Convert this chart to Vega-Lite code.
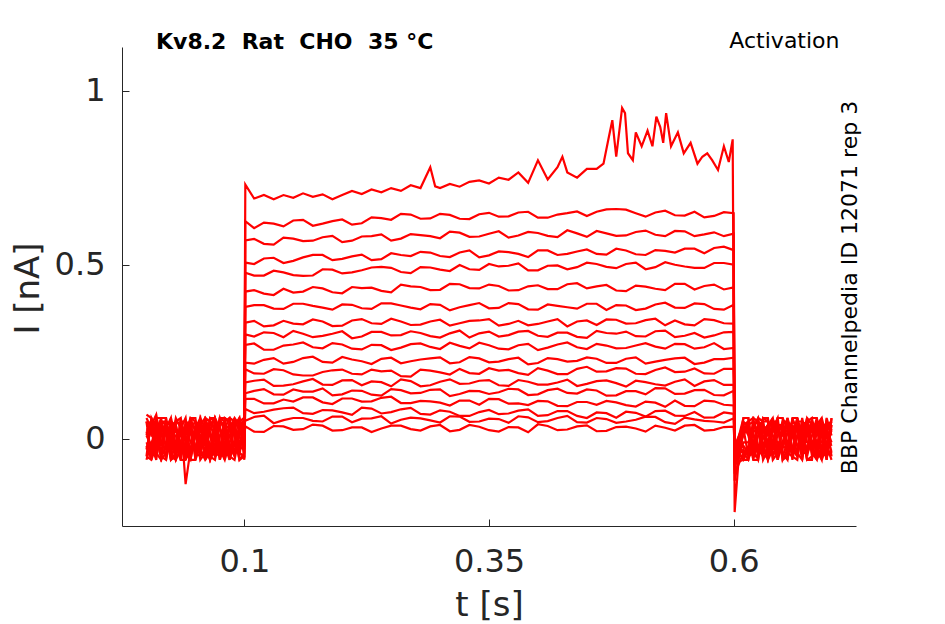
{
"$schema":"https://vega.github.io/schema/vega-lite/v6.json",
"width":734,"height":479,"autosize":"none",
"padding":{"left":122,"top":47,"right":89,"bottom":98},
"background":"white",
"config":{"view":{"stroke":null},"font":"DejaVu Sans"},
"title":{"text":"Kv8.2\u00a0\u00a0Rat\u00a0\u00a0CHO\u00a0\u00a035 °C","anchor":"start","frame":"group","fontSize":22,"fontWeight":"bold","color":"#000000","offset":0,"dx":34,"dy":42,"baseline":"alphabetic","font":"DejaVu Sans"},
"resolve":{"axis":{"x":"independent","y":"independent"}},
"layer":[
{"data":{"values":[
{"s":1,"t":0,"i":0.02},{"s":1,"t":10,"i":-0.04},{"s":1,"t":20,"i":0.05},{"s":1,"t":30,"i":-0.01},{"s":1,"t":40,"i":-0.05},{"s":1,"t":50,"i":0.03},{"s":1,"t":60,"i":-0.03},{"s":1,"t":70,"i":0.06},{"s":1,"t":80,"i":-0.02},{"s":1,"t":90,"i":0.04},{"s":1,"t":100,"i":0.01},
{"s":1,"t":101,"i":0.036},{"s":1,"t":120,"i":0.020},{"s":1,"t":140,"i":0.036},{"s":1,"t":160,"i":0.028},{"s":1,"t":180,"i":0.038},{"s":1,"t":200,"i":0.025},{"s":1,"t":220,"i":0.033},{"s":1,"t":240,"i":0.030},{"s":1,"t":260,"i":0.038},{"s":1,"t":280,"i":0.024},{"s":1,"t":300,"i":0.040},{"s":1,"t":320,"i":0.026},{"s":1,"t":340,"i":0.035},{"s":1,"t":360,"i":0.021},{"s":1,"t":380,"i":0.033},{"s":1,"t":400,"i":0.042},{"s":1,"t":420,"i":0.025},{"s":1,"t":440,"i":0.036},{"s":1,"t":460,"i":0.022},{"s":1,"t":480,"i":0.034},{"s":1,"t":500,"i":0.030},{"s":1,"t":520,"i":0.038},{"s":1,"t":540,"i":0.024},{"s":1,"t":560,"i":0.040},{"s":1,"t":580,"i":0.026},{"s":1,"t":600,"i":0.035},
{"s":1,"t":601,"i":-0.02},{"s":1,"t":610,"i":0.04},{"s":1,"t":620,"i":-0.05},{"s":1,"t":630,"i":0.02},{"s":1,"t":640,"i":0.06},{"s":1,"t":650,"i":-0.03},{"s":1,"t":660,"i":0.01},{"s":1,"t":670,"i":-0.06},{"s":1,"t":680,"i":0.04},{"s":1,"t":690,"i":-0.02},{"s":1,"t":700,"i":0.05},

{"s":2,"t":0,"i":-0.03},{"s":2,"t":10,"i":0.05},{"s":2,"t":20,"i":-0.02},{"s":2,"t":30,"i":0.04},{"s":2,"t":40,"i":-0.06},{"s":2,"t":50,"i":0.02},{"s":2,"t":60,"i":0.05},{"s":2,"t":70,"i":-0.04},{"s":2,"t":80,"i":0.03},{"s":2,"t":90,"i":-0.01},{"s":2,"t":100,"i":0.05},
{"s":2,"t":101,"i":0.052},{"s":2,"t":120,"i":0.067},{"s":2,"t":140,"i":0.054},{"s":2,"t":160,"i":0.060},{"s":2,"t":180,"i":0.050},{"s":2,"t":200,"i":0.064},{"s":2,"t":220,"i":0.058},{"s":2,"t":240,"i":0.065},{"s":2,"t":260,"i":0.055},{"s":2,"t":280,"i":0.059},{"s":2,"t":300,"i":0.047},{"s":2,"t":320,"i":0.064},{"s":2,"t":340,"i":0.050},{"s":2,"t":360,"i":0.057},{"s":2,"t":380,"i":0.065},{"s":2,"t":400,"i":0.048},{"s":2,"t":420,"i":0.060},{"s":2,"t":440,"i":0.048},{"s":2,"t":460,"i":0.060},{"s":2,"t":480,"i":0.046},{"s":2,"t":500,"i":0.055},{"s":2,"t":520,"i":0.063},{"s":2,"t":540,"i":0.043},{"s":2,"t":560,"i":0.056},{"s":2,"t":580,"i":0.050},{"s":2,"t":600,"i":0.059},
{"s":2,"t":601,"i":-0.02},{"s":2,"t":610,"i":-0.06},{"s":2,"t":620,"i":0.03},{"s":2,"t":630,"i":-0.02},{"s":2,"t":640,"i":0.05},{"s":2,"t":650,"i":0.04},{"s":2,"t":660,"i":-0.04},{"s":2,"t":670,"i":0.02},{"s":2,"t":680,"i":-0.05},{"s":2,"t":690,"i":0.06},{"s":2,"t":700,"i":-0.01},

{"s":3,"t":0,"i":0.05},{"s":3,"t":10,"i":-0.01},{"s":3,"t":20,"i":0.03},{"s":3,"t":30,"i":-0.05},{"s":3,"t":40,"i":0.04},{"s":3,"t":50,"i":-0.03},{"s":3,"t":60,"i":0.01},{"s":3,"t":70,"i":0.06},{"s":3,"t":80,"i":-0.05},{"s":3,"t":90,"i":0.02},{"s":3,"t":100,"i":-0.02},
{"s":3,"t":101,"i":0.086},{"s":3,"t":120,"i":0.078},{"s":3,"t":140,"i":0.088},{"s":3,"t":160,"i":0.074},{"s":3,"t":180,"i":0.083},{"s":3,"t":200,"i":0.076},{"s":3,"t":220,"i":0.090},{"s":3,"t":240,"i":0.073},{"s":3,"t":260,"i":0.085},{"s":3,"t":280,"i":0.072},{"s":3,"t":300,"i":0.082},{"s":3,"t":320,"i":0.066},{"s":3,"t":340,"i":0.077},{"s":3,"t":360,"i":0.071},{"s":3,"t":380,"i":0.081},{"s":3,"t":400,"i":0.066},{"s":3,"t":420,"i":0.080},{"s":3,"t":440,"i":0.066},{"s":3,"t":460,"i":0.076},{"s":3,"t":480,"i":0.061},{"s":3,"t":500,"i":0.075},{"s":3,"t":520,"i":0.080},{"s":3,"t":540,"i":0.067},{"s":3,"t":560,"i":0.077},{"s":3,"t":580,"i":0.062},{"s":3,"t":600,"i":0.072},
{"s":3,"t":601,"i":-0.03},{"s":3,"t":610,"i":0.02},{"s":3,"t":620,"i":0.06},{"s":3,"t":630,"i":-0.04},{"s":3,"t":640,"i":-0.01},{"s":3,"t":650,"i":0.05},{"s":3,"t":660,"i":-0.06},{"s":3,"t":670,"i":0.03},{"s":3,"t":680,"i":0.01},{"s":3,"t":690,"i":-0.04},{"s":3,"t":700,"i":0.04},

{"s":4,"t":0,"i":-0.05},{"s":4,"t":10,"i":0.03},{"s":4,"t":20,"i":0.06},{"s":4,"t":30,"i":-0.03},{"s":4,"t":40,"i":0.01},{"s":4,"t":50,"i":-0.06},{"s":4,"t":60,"i":0.04},{"s":4,"t":70,"i":-0.02},{"s":4,"t":80,"i":0.05},{"s":4,"t":90,"i":-0.04},{"s":4,"t":100,"i":0.03},
{"s":4,"t":101,"i":0.115},{"s":4,"t":120,"i":0.102},{"s":4,"t":140,"i":0.113},{"s":4,"t":160,"i":0.119},{"s":4,"t":180,"i":0.105},{"s":4,"t":200,"i":0.116},{"s":4,"t":220,"i":0.107},{"s":4,"t":240,"i":0.118},{"s":4,"t":260,"i":0.103},{"s":4,"t":280,"i":0.109},{"s":4,"t":300,"i":0.104},{"s":4,"t":320,"i":0.110},{"s":4,"t":340,"i":0.098},{"s":4,"t":360,"i":0.114},{"s":4,"t":380,"i":0.102},{"s":4,"t":400,"i":0.109},{"s":4,"t":420,"i":0.095},{"s":4,"t":440,"i":0.106},{"s":4,"t":460,"i":0.098},{"s":4,"t":480,"i":0.105},{"s":4,"t":500,"i":0.093},{"s":4,"t":520,"i":0.104},{"s":4,"t":540,"i":0.110},{"s":4,"t":560,"i":0.094},{"s":4,"t":580,"i":0.108},{"s":4,"t":600,"i":0.096},
{"s":4,"t":601,"i":-0.03},{"s":4,"t":610,"i":-0.04},{"s":4,"t":620,"i":-0.01},{"s":4,"t":630,"i":0.05},{"s":4,"t":640,"i":-0.05},{"s":4,"t":650,"i":0.02},{"s":4,"t":660,"i":0.06},{"s":4,"t":670,"i":-0.03},{"s":4,"t":680,"i":0.05},{"s":4,"t":690,"i":-0.06},{"s":4,"t":700,"i":0.02},

{"s":5,"t":0,"i":0.01},{"s":5,"t":10,"i":-0.06},{"s":5,"t":20,"i":0.02},{"s":5,"t":30,"i":0.05},{"s":5,"t":40,"i":-0.13},{"s":5,"t":50,"i":0.04},{"s":5,"t":60,"i":-0.05},{"s":5,"t":70,"i":0.03},{"s":5,"t":80,"i":-0.01},{"s":5,"t":90,"i":0.06},{"s":5,"t":100,"i":-0.03},
{"s":5,"t":101,"i":0.131},{"s":5,"t":120,"i":0.143},{"s":5,"t":140,"i":0.127},{"s":5,"t":160,"i":0.136},{"s":5,"t":180,"i":0.145},{"s":5,"t":200,"i":0.128},{"s":5,"t":220,"i":0.138},{"s":5,"t":240,"i":0.124},{"s":5,"t":260,"i":0.140},{"s":5,"t":280,"i":0.132},{"s":5,"t":300,"i":0.142},{"s":5,"t":320,"i":0.129},{"s":5,"t":340,"i":0.137},{"s":5,"t":360,"i":0.134},{"s":5,"t":380,"i":0.142},{"s":5,"t":400,"i":0.128},{"s":5,"t":420,"i":0.144},{"s":5,"t":440,"i":0.130},{"s":5,"t":460,"i":0.139},{"s":5,"t":480,"i":0.125},{"s":5,"t":500,"i":0.137},{"s":5,"t":520,"i":0.146},{"s":5,"t":540,"i":0.129},{"s":5,"t":560,"i":0.140},{"s":5,"t":580,"i":0.126},{"s":5,"t":600,"i":0.138},
{"s":5,"t":601,"i":-0.04},{"s":5,"t":610,"i":0.05},{"s":5,"t":620,"i":-0.03},{"s":5,"t":630,"i":0.03},{"s":5,"t":640,"i":0.02},{"s":5,"t":650,"i":-0.06},{"s":5,"t":660,"i":0.04},{"s":5,"t":670,"i":-0.01},{"s":5,"t":680,"i":-0.05},{"s":5,"t":690,"i":0.03},{"s":5,"t":700,"i":-0.04},

{"s":6,"t":0,"i":0.06},{"s":6,"t":10,"i":0.02},{"s":6,"t":20,"i":-0.04},{"s":6,"t":30,"i":0.03},{"s":6,"t":40,"i":-0.02},{"s":6,"t":50,"i":0.05},{"s":6,"t":60,"i":-0.06},{"s":6,"t":70,"i":0.01},{"s":6,"t":80,"i":0.04},{"s":6,"t":90,"i":-0.05},{"s":6,"t":100,"i":0.06},
{"s":6,"t":101,"i":0.162},{"s":6,"t":120,"i":0.170},{"s":6,"t":140,"i":0.153},{"s":6,"t":160,"i":0.165},{"s":6,"t":180,"i":0.156},{"s":6,"t":200,"i":0.168},{"s":6,"t":220,"i":0.154},{"s":6,"t":240,"i":0.163},{"s":6,"t":260,"i":0.171},{"s":6,"t":280,"i":0.151},{"s":6,"t":300,"i":0.164},{"s":6,"t":320,"i":0.158},{"s":6,"t":340,"i":0.167},{"s":6,"t":360,"i":0.154},{"s":6,"t":380,"i":0.169},{"s":6,"t":400,"i":0.156},{"s":6,"t":420,"i":0.162},{"s":6,"t":440,"i":0.152},{"s":6,"t":460,"i":0.166},{"s":6,"t":480,"i":0.160},{"s":6,"t":500,"i":0.167},{"s":6,"t":520,"i":0.157},{"s":6,"t":540,"i":0.164},{"s":6,"t":560,"i":0.152},{"s":6,"t":580,"i":0.169},{"s":6,"t":600,"i":0.155},
{"s":6,"t":601,"i":-0.04},{"s":6,"t":610,"i":-0.02},{"s":6,"t":620,"i":0.04},{"s":6,"t":630,"i":-0.06},{"s":6,"t":640,"i":0.05},{"s":6,"t":650,"i":0.01},{"s":6,"t":660,"i":-0.03},{"s":6,"t":670,"i":0.06},{"s":6,"t":680,"i":-0.02},{"s":6,"t":690,"i":0.02},{"s":6,"t":700,"i":0.06},

{"s":7,"t":0,"i":-0.02},{"s":7,"t":10,"i":0.04},{"s":7,"t":20,"i":-0.06},{"s":7,"t":30,"i":0.01},{"s":7,"t":40,"i":0.05},{"s":7,"t":50,"i":-0.04},{"s":7,"t":60,"i":0.03},{"s":7,"t":70,"i":-0.05},{"s":7,"t":80,"i":0.06},{"s":7,"t":90,"i":0.02},{"s":7,"t":100,"i":-0.04},
{"s":7,"t":101,"i":0.200},{"s":7,"t":120,"i":0.187},{"s":7,"t":140,"i":0.197},{"s":7,"t":160,"i":0.182},{"s":7,"t":180,"i":0.192},{"s":7,"t":200,"i":0.199},{"s":7,"t":220,"i":0.185},{"s":7,"t":240,"i":0.194},{"s":7,"t":260,"i":0.180},{"s":7,"t":280,"i":0.199},{"s":7,"t":300,"i":0.191},{"s":7,"t":320,"i":0.201},{"s":7,"t":340,"i":0.187},{"s":7,"t":360,"i":0.196},{"s":7,"t":380,"i":0.189},{"s":7,"t":400,"i":0.203},{"s":7,"t":420,"i":0.186},{"s":7,"t":440,"i":0.201},{"s":7,"t":460,"i":0.193},{"s":7,"t":480,"i":0.203},{"s":7,"t":500,"i":0.187},{"s":7,"t":520,"i":0.198},{"s":7,"t":540,"i":0.192},{"s":7,"t":560,"i":0.202},{"s":7,"t":580,"i":0.187},{"s":7,"t":600,"i":0.201},
{"s":7,"t":601,"i":-0.04},{"s":7,"t":610,"i":0.06},{"s":7,"t":620,"i":-0.06},{"s":7,"t":630,"i":0.01},{"s":7,"t":640,"i":-0.03},{"s":7,"t":650,"i":0.04},{"s":7,"t":660,"i":0.02},{"s":7,"t":670,"i":-0.05},{"s":7,"t":680,"i":0.06},{"s":7,"t":690,"i":-0.03},{"s":7,"t":700,"i":-0.02},

{"s":8,"t":0,"i":0.04},{"s":8,"t":10,"i":-0.05},{"s":8,"t":20,"i":0.01},{"s":8,"t":30,"i":-0.04},{"s":8,"t":40,"i":0.06},{"s":8,"t":50,"i":0.01},{"s":8,"t":60,"i":-0.02},{"s":8,"t":70,"i":0.05},{"s":8,"t":80,"i":-0.06},{"s":8,"t":90,"i":0.03},{"s":8,"t":100,"i":0.02},
{"s":8,"t":101,"i":0.219},{"s":8,"t":120,"i":0.227},{"s":8,"t":140,"i":0.216},{"s":8,"t":160,"i":0.232},{"s":8,"t":180,"i":0.221},{"s":8,"t":200,"i":0.235},{"s":8,"t":220,"i":0.223},{"s":8,"t":240,"i":0.230},{"s":8,"t":260,"i":0.217},{"s":8,"t":280,"i":0.228},{"s":8,"t":300,"i":0.234},{"s":8,"t":320,"i":0.220},{"s":8,"t":340,"i":0.231},{"s":8,"t":360,"i":0.222},{"s":8,"t":380,"i":0.233},{"s":8,"t":400,"i":0.218},{"s":8,"t":420,"i":0.229},{"s":8,"t":440,"i":0.224},{"s":8,"t":460,"i":0.230},{"s":8,"t":480,"i":0.218},{"s":8,"t":500,"i":0.234},{"s":8,"t":520,"i":0.222},{"s":8,"t":540,"i":0.231},{"s":8,"t":560,"i":0.215},{"s":8,"t":580,"i":0.229},{"s":8,"t":600,"i":0.233},
{"s":8,"t":601,"i":-0.05},{"s":8,"t":610,"i":-0.05},{"s":8,"t":620,"i":0.02},{"s":8,"t":630,"i":0.06},{"s":8,"t":640,"i":-0.04},{"s":8,"t":650,"i":-0.02},{"s":8,"t":660,"i":0.05},{"s":8,"t":670,"i":0.01},{"s":8,"t":680,"i":-0.06},{"s":8,"t":690,"i":0.04},{"s":8,"t":700,"i":0.03},

{"s":9,"t":0,"i":-0.06},{"s":9,"t":10,"i":0.01},{"s":9,"t":20,"i":0.05},{"s":9,"t":30,"i":-0.02},{"s":9,"t":40,"i":0.03},{"s":9,"t":50,"i":-0.05},{"s":9,"t":60,"i":0.06},{"s":9,"t":70,"i":-0.01},{"s":9,"t":80,"i":0.02},{"s":9,"t":90,"i":-0.06},{"s":9,"t":100,"i":0.04},
{"s":9,"t":101,"i":0.270},{"s":9,"t":120,"i":0.256},{"s":9,"t":140,"i":0.268},{"s":9,"t":160,"i":0.277},{"s":9,"t":180,"i":0.260},{"s":9,"t":200,"i":0.271},{"s":9,"t":220,"i":0.257},{"s":9,"t":240,"i":0.269},{"s":9,"t":260,"i":0.262},{"s":9,"t":280,"i":0.274},{"s":9,"t":300,"i":0.258},{"s":9,"t":320,"i":0.267},{"s":9,"t":340,"i":0.276},{"s":9,"t":360,"i":0.259},{"s":9,"t":380,"i":0.269},{"s":9,"t":400,"i":0.255},{"s":9,"t":420,"i":0.271},{"s":9,"t":440,"i":0.263},{"s":9,"t":460,"i":0.273},{"s":9,"t":480,"i":0.260},{"s":9,"t":500,"i":0.268},{"s":9,"t":520,"i":0.265},{"s":9,"t":540,"i":0.273},{"s":9,"t":560,"i":0.259},{"s":9,"t":580,"i":0.275},{"s":9,"t":600,"i":0.261},
{"s":9,"t":601,"i":-0.05},{"s":9,"t":610,"i":0.01},{"s":9,"t":620,"i":0.05},{"s":9,"t":630,"i":-0.03},{"s":9,"t":640,"i":0.03},{"s":9,"t":650,"i":-0.05},{"s":9,"t":660,"i":-0.02},{"s":9,"t":670,"i":0.05},{"s":9,"t":680,"i":0.03},{"s":9,"t":690,"i":-0.05},{"s":9,"t":700,"i":0.01},

{"s":10,"t":0,"i":0.03},{"s":10,"t":10,"i":0.06},{"s":10,"t":20,"i":-0.03},{"s":10,"t":30,"i":0.05},{"s":10,"t":40,"i":-0.04},{"s":10,"t":50,"i":0.02},{"s":10,"t":60,"i":-0.01},{"s":10,"t":70,"i":-0.06},{"s":10,"t":80,"i":0.04},{"s":10,"t":90,"i":0.05},{"s":10,"t":100,"i":-0.05},
{"s":10,"t":101,"i":0.300},{"s":10,"t":120,"i":0.306},{"s":10,"t":140,"i":0.292},{"s":10,"t":160,"i":0.302},{"s":10,"t":180,"i":0.296},{"s":10,"t":200,"i":0.309},{"s":10,"t":220,"i":0.294},{"s":10,"t":240,"i":0.307},{"s":10,"t":260,"i":0.298},{"s":10,"t":280,"i":0.304},{"s":10,"t":300,"i":0.291},{"s":10,"t":320,"i":0.311},{"s":10,"t":340,"i":0.303},{"s":10,"t":360,"i":0.294},{"s":10,"t":380,"i":0.308},{"s":10,"t":400,"i":0.296},{"s":10,"t":420,"i":0.305},{"s":10,"t":440,"i":0.293},{"s":10,"t":460,"i":0.310},{"s":10,"t":480,"i":0.302},{"s":10,"t":500,"i":0.295},{"s":10,"t":520,"i":0.309},{"s":10,"t":540,"i":0.292},{"s":10,"t":560,"i":0.304},{"s":10,"t":580,"i":0.297},{"s":10,"t":600,"i":0.307},
{"s":10,"t":601,"i":-0.06},{"s":10,"t":610,"i":-0.03},{"s":10,"t":620,"i":-0.04},{"s":10,"t":630,"i":0.04},{"s":10,"t":640,"i":0.06},{"s":10,"t":650,"i":-0.01},{"s":10,"t":660,"i":0.03},{"s":10,"t":670,"i":-0.04},{"s":10,"t":680,"i":-0.01},{"s":10,"t":690,"i":0.06},{"s":10,"t":700,"i":-0.06},

{"s":11,"t":0,"i":-0.01},{"s":11,"t":10,"i":-0.03},{"s":11,"t":20,"i":0.04},{"s":11,"t":30,"i":-0.06},{"s":11,"t":40,"i":0.02},{"s":11,"t":50,"i":0.06},{"s":11,"t":60,"i":-0.04},{"s":11,"t":70,"i":0.04},{"s":11,"t":80,"i":-0.03},{"s":11,"t":90,"i":0.01},{"s":11,"t":100,"i":0.07},
{"s":11,"t":101,"i":0.334},{"s":11,"t":120,"i":0.323},{"s":11,"t":140,"i":0.339},{"s":11,"t":160,"i":0.329},{"s":11,"t":180,"i":0.337},{"s":11,"t":200,"i":0.325},{"s":11,"t":220,"i":0.344},{"s":11,"t":240,"i":0.330},{"s":11,"t":260,"i":0.337},{"s":11,"t":280,"i":0.328},{"s":11,"t":300,"i":0.342},{"s":11,"t":320,"i":0.332},{"s":11,"t":340,"i":0.340},{"s":11,"t":360,"i":0.325},{"s":11,"t":380,"i":0.339},{"s":11,"t":400,"i":0.330},{"s":11,"t":420,"i":0.344},{"s":11,"t":440,"i":0.337},{"s":11,"t":460,"i":0.327},{"s":11,"t":480,"i":0.342},{"s":11,"t":500,"i":0.332},{"s":11,"t":520,"i":0.345},{"s":11,"t":540,"i":0.340},{"s":11,"t":560,"i":0.326},{"s":11,"t":580,"i":0.341},{"s":11,"t":600,"i":0.331},
{"s":11,"t":601,"i":-0.06},{"s":11,"t":610,"i":0.03},{"s":11,"t":620,"i":0.01},{"s":11,"t":630,"i":-0.05},{"s":11,"t":640,"i":-0.02},{"s":11,"t":650,"i":0.06},{"s":11,"t":660,"i":-0.05},{"s":11,"t":670,"i":0.04},{"s":11,"t":680,"i":0.02},{"s":11,"t":690,"i":-0.01},{"s":11,"t":700,"i":0.05},

{"s":12,"t":0,"i":0.07},{"s":12,"t":10,"i":-0.02},{"s":12,"t":20,"i":-0.05},{"s":12,"t":30,"i":0.02},{"s":12,"t":40,"i":-0.03},{"s":12,"t":50,"i":0.01},{"s":12,"t":60,"i":0.05},{"s":12,"t":70,"i":-0.03},{"s":12,"t":80,"i":0.06},{"s":12,"t":90,"i":-0.02},{"s":12,"t":100,"i":-0.01},
{"s":12,"t":101,"i":0.379},{"s":12,"t":120,"i":0.384},{"s":12,"t":140,"i":0.373},{"s":12,"t":160,"i":0.388},{"s":12,"t":180,"i":0.377},{"s":12,"t":200,"i":0.386},{"s":12,"t":220,"i":0.375},{"s":12,"t":240,"i":0.389},{"s":12,"t":260,"i":0.383},{"s":12,"t":280,"i":0.372},{"s":12,"t":300,"i":0.385},{"s":12,"t":320,"i":0.378},{"s":12,"t":340,"i":0.390},{"s":12,"t":360,"i":0.376},{"s":12,"t":380,"i":0.387},{"s":12,"t":400,"i":0.371},{"s":12,"t":420,"i":0.382},{"s":12,"t":440,"i":0.374},{"s":12,"t":460,"i":0.388},{"s":12,"t":480,"i":0.384},{"s":12,"t":500,"i":0.370},{"s":12,"t":520,"i":0.386},{"s":12,"t":540,"i":0.377},{"s":12,"t":560,"i":0.389},{"s":12,"t":580,"i":0.373},{"s":12,"t":600,"i":0.385},
{"s":12,"t":601,"i":-0.07},{"s":12,"t":610,"i":-0.06},{"s":12,"t":620,"i":0.06},{"s":12,"t":630,"i":0.02},{"s":12,"t":640,"i":-0.06},{"s":12,"t":650,"i":0.03},{"s":12,"t":660,"i":0.01},{"s":12,"t":670,"i":-0.02},{"s":12,"t":680,"i":0.05},{"s":12,"t":690,"i":-0.04},{"s":12,"t":700,"i":-0.03},

{"s":13,"t":0,"i":-0.04},{"s":13,"t":10,"i":0.02},{"s":13,"t":20,"i":0.06},{"s":13,"t":30,"i":-0.05},{"s":13,"t":40,"i":0.05},{"s":13,"t":50,"i":-0.02},{"s":13,"t":60,"i":0.02},{"s":13,"t":70,"i":0.06},{"s":13,"t":80,"i":-0.04},{"s":13,"t":90,"i":0.04},{"s":13,"t":100,"i":-0.06},
{"s":13,"t":101,"i":0.423},{"s":13,"t":120,"i":0.417},{"s":13,"t":140,"i":0.431},{"s":13,"t":160,"i":0.423},{"s":13,"t":180,"i":0.432},{"s":13,"t":200,"i":0.418},{"s":13,"t":220,"i":0.433},{"s":13,"t":240,"i":0.425},{"s":13,"t":260,"i":0.443},{"s":13,"t":280,"i":0.436},{"s":13,"t":300,"i":0.428},{"s":13,"t":320,"i":0.444},{"s":13,"t":340,"i":0.432},{"s":13,"t":360,"i":0.439},{"s":13,"t":380,"i":0.427},{"s":13,"t":400,"i":0.441},{"s":13,"t":420,"i":0.430},{"s":13,"t":440,"i":0.447},{"s":13,"t":460,"i":0.438},{"s":13,"t":480,"i":0.426},{"s":13,"t":500,"i":0.440},{"s":13,"t":520,"i":0.431},{"s":13,"t":540,"i":0.445},{"s":13,"t":560,"i":0.429},{"s":13,"t":580,"i":0.443},{"s":13,"t":600,"i":0.435},
{"s":13,"t":601,"i":-0.07},{"s":13,"t":610,"i":0.04},{"s":13,"t":620,"i":-0.02},{"s":13,"t":630,"i":-0.01},{"s":13,"t":640,"i":0.04},{"s":13,"t":650,"i":-0.04},{"s":13,"t":660,"i":0.06},{"s":13,"t":670,"i":-0.06},{"s":13,"t":680,"i":-0.03},{"s":13,"t":690,"i":0.05},{"s":13,"t":700,"i":0.02},

{"s":14,"t":0,"i":0.02},{"s":14,"t":10,"i":0.07},{"s":14,"t":20,"i":-0.01},{"s":14,"t":30,"i":0.04},{"s":14,"t":40,"i":-0.06},{"s":14,"t":50,"i":0.03},{"s":14,"t":60,"i":-0.06},{"s":14,"t":70,"i":0.02},{"s":14,"t":80,"i":-0.02},{"s":14,"t":90,"i":0.06},{"s":14,"t":100,"i":0.03},
{"s":14,"t":101,"i":0.477},{"s":14,"t":120,"i":0.469},{"s":14,"t":140,"i":0.478},{"s":14,"t":160,"i":0.468},{"s":14,"t":180,"i":0.487},{"s":14,"t":200,"i":0.475},{"s":14,"t":220,"i":0.484},{"s":14,"t":240,"i":0.494},{"s":14,"t":260,"i":0.479},{"s":14,"t":280,"i":0.493},{"s":14,"t":300,"i":0.486},{"s":14,"t":320,"i":0.499},{"s":14,"t":340,"i":0.485},{"s":14,"t":360,"i":0.495},{"s":14,"t":380,"i":0.504},{"s":14,"t":400,"i":0.484},{"s":14,"t":420,"i":0.498},{"s":14,"t":440,"i":0.493},{"s":14,"t":460,"i":0.502},{"s":14,"t":480,"i":0.490},{"s":14,"t":500,"i":0.506},{"s":14,"t":520,"i":0.493},{"s":14,"t":540,"i":0.500},{"s":14,"t":560,"i":0.491},{"s":14,"t":580,"i":0.505},{"s":14,"t":600,"i":0.500},
{"s":14,"t":601,"i":-0.08},{"s":14,"t":610,"i":-0.01},{"s":14,"t":620,"i":0.03},{"s":14,"t":630,"i":0.05},{"s":14,"t":640,"i":-0.03},{"s":14,"t":650,"i":0.05},{"s":14,"t":660,"i":-0.04},{"s":14,"t":670,"i":0.02},{"s":14,"t":680,"i":0.06},{"s":14,"t":690,"i":-0.06},{"s":14,"t":700,"i":0.04},

{"s":15,"t":0,"i":-0.05},{"s":15,"t":10,"i":-0.02},{"s":15,"t":20,"i":0.03},{"s":15,"t":30,"i":0.06},{"s":15,"t":40,"i":0.01},{"s":15,"t":50,"i":-0.04},{"s":15,"t":60,"i":0.04},{"s":15,"t":70,"i":-0.05},{"s":15,"t":80,"i":0.05},{"s":15,"t":90,"i":-0.03},{"s":15,"t":100,"i":0.02},
{"s":15,"t":101,"i":0.506},{"s":15,"t":120,"i":0.518},{"s":15,"t":140,"i":0.505},{"s":15,"t":160,"i":0.521},{"s":15,"t":180,"i":0.528},{"s":15,"t":200,"i":0.517},{"s":15,"t":220,"i":0.529},{"s":15,"t":240,"i":0.516},{"s":15,"t":260,"i":0.528},{"s":15,"t":280,"i":0.537},{"s":15,"t":300,"i":0.525},{"s":15,"t":320,"i":0.535},{"s":15,"t":340,"i":0.521},{"s":15,"t":360,"i":0.538},{"s":15,"t":380,"i":0.531},{"s":15,"t":400,"i":0.541},{"s":15,"t":420,"i":0.528},{"s":15,"t":440,"i":0.538},{"s":15,"t":460,"i":0.531},{"s":15,"t":480,"i":0.546},{"s":15,"t":500,"i":0.530},{"s":15,"t":520,"i":0.542},{"s":15,"t":540,"i":0.535},{"s":15,"t":560,"i":0.546},{"s":15,"t":580,"i":0.548},{"s":15,"t":600,"i":0.542},
{"s":15,"t":601,"i":-0.09},{"s":15,"t":610,"i":0.06},{"s":15,"t":620,"i":-0.05},{"s":15,"t":630,"i":-0.04},{"s":15,"t":640,"i":0.01},{"s":15,"t":650,"i":-0.02},{"s":15,"t":660,"i":0.03},{"s":15,"t":670,"i":0.05},{"s":15,"t":680,"i":-0.04},{"s":15,"t":690,"i":0.02},{"s":15,"t":700,"i":-0.05},

{"s":16,"t":0,"i":0.05},{"s":16,"t":10,"i":0.03},{"s":16,"t":20,"i":-0.06},{"s":16,"t":30,"i":-0.02},{"s":16,"t":40,"i":0.04},{"s":16,"t":50,"i":0.05},{"s":16,"t":60,"i":-0.03},{"s":16,"t":70,"i":0.03},{"s":16,"t":80,"i":-0.06},{"s":16,"t":90,"i":0.01},{"s":16,"t":100,"i":-0.05},
{"s":16,"t":101,"i":0.570},{"s":16,"t":120,"i":0.560},{"s":16,"t":140,"i":0.578},{"s":16,"t":160,"i":0.568},{"s":16,"t":180,"i":0.579},{"s":16,"t":200,"i":0.565},{"s":16,"t":220,"i":0.581},{"s":16,"t":240,"i":0.587},{"s":16,"t":260,"i":0.575},{"s":16,"t":280,"i":0.585},{"s":16,"t":300,"i":0.576},{"s":16,"t":320,"i":0.592},{"s":16,"t":340,"i":0.581},{"s":16,"t":360,"i":0.596},{"s":16,"t":380,"i":0.584},{"s":16,"t":400,"i":0.591},{"s":16,"t":420,"i":0.579},{"s":16,"t":440,"i":0.590},{"s":16,"t":460,"i":0.597},{"s":16,"t":480,"i":0.583},{"s":16,"t":500,"i":0.594},{"s":16,"t":520,"i":0.586},{"s":16,"t":540,"i":0.597},{"s":16,"t":560,"i":0.582},{"s":16,"t":580,"i":0.593},{"s":16,"t":600,"i":0.589},
{"s":16,"t":601,"i":-0.10},{"s":16,"t":610,"i":-0.04},{"s":16,"t":620,"i":0.02},{"s":16,"t":630,"i":0.03},{"s":16,"t":640,"i":0.05},{"s":16,"t":650,"i":-0.06},{"s":16,"t":660,"i":0.02},{"s":16,"t":670,"i":-0.03},{"s":16,"t":680,"i":0.04},{"s":16,"t":690,"i":0.01},{"s":16,"t":700,"i":0.06},

{"s":17,"t":0,"i":-0.03},{"s":17,"t":10,"i":0.05},{"s":17,"t":20,"i":0.02},{"s":17,"t":30,"i":-0.06},{"s":17,"t":40,"i":-0.01},{"s":17,"t":50,"i":0.02},{"s":17,"t":60,"i":0.06},{"s":17,"t":70,"i":-0.04},{"s":17,"t":80,"i":0.03},{"s":17,"t":90,"i":0.05},{"s":17,"t":100,"i":0.04},
{"s":17,"t":101,"i":0.625},{"s":17,"t":120,"i":0.621},{"s":17,"t":140,"i":0.610},{"s":17,"t":160,"i":0.629},{"s":17,"t":180,"i":0.618},{"s":17,"t":200,"i":0.630},{"s":17,"t":220,"i":0.619},{"s":17,"t":240,"i":0.634},{"s":17,"t":260,"i":0.646},{"s":17,"t":280,"i":0.632},{"s":17,"t":300,"i":0.646},{"s":17,"t":320,"i":0.632},{"s":17,"t":340,"i":0.645},{"s":17,"t":360,"i":0.638},{"s":17,"t":380,"i":0.650},{"s":17,"t":400,"i":0.635},{"s":17,"t":420,"i":0.644},{"s":17,"t":440,"i":0.653},{"s":17,"t":460,"i":0.652},{"s":17,"t":480,"i":0.660},{"s":17,"t":500,"i":0.648},{"s":17,"t":520,"i":0.650},{"s":17,"t":540,"i":0.642},{"s":17,"t":560,"i":0.652},{"s":17,"t":580,"i":0.640},{"s":17,"t":600,"i":0.648},
{"s":17,"t":601,"i":-0.12},{"s":17,"t":610,"i":0.02},{"s":17,"t":620,"i":-0.06},{"s":17,"t":630,"i":0.06},{"s":17,"t":640,"i":-0.02},{"s":17,"t":650,"i":0.03},{"s":17,"t":660,"i":-0.05},{"s":17,"t":670,"i":0.01},{"s":17,"t":680,"i":-0.02},{"s":17,"t":690,"i":-0.05},{"s":17,"t":700,"i":0.03},

{"s":18,"t":0,"i":0.01},{"s":18,"t":10,"i":-0.04},{"s":18,"t":20,"i":0.04},{"s":18,"t":30,"i":0.03},{"s":18,"t":40,"i":-0.05},{"s":18,"t":50,"i":-0.06},{"s":18,"t":60,"i":0.02},{"s":18,"t":70,"i":0.05},{"s":18,"t":80,"i":0.01},{"s":18,"t":90,"i":-0.05},{"s":18,"t":100,"i":0.06},
{"s":18,"t":101,"i":0.73},{"s":18,"t":110,"i":0.69},{"s":18,"t":120,"i":0.70},{"s":18,"t":130,"i":0.688},{"s":18,"t":140,"i":0.70},{"s":18,"t":150,"i":0.692},{"s":18,"t":160,"i":0.705},{"s":18,"t":170,"i":0.695},{"s":18,"t":180,"i":0.702},{"s":18,"t":190,"i":0.688},{"s":18,"t":200,"i":0.70},{"s":18,"t":210,"i":0.712},{"s":18,"t":220,"i":0.703},{"s":18,"t":230,"i":0.716},{"s":18,"t":240,"i":0.708},{"s":18,"t":250,"i":0.72},{"s":18,"t":260,"i":0.712},{"s":18,"t":270,"i":0.728},{"s":18,"t":280,"i":0.72},{"s":18,"t":290,"i":0.78},{"s":18,"t":295,"i":0.725},{"s":18,"t":300,"i":0.72},{"s":18,"t":310,"i":0.732},{"s":18,"t":320,"i":0.724},{"s":18,"t":330,"i":0.738},{"s":18,"t":340,"i":0.742},{"s":18,"t":350,"i":0.733},{"s":18,"t":360,"i":0.75},{"s":18,"t":370,"i":0.744},{"s":18,"t":380,"i":0.765},{"s":18,"t":390,"i":0.735},{"s":18,"t":400,"i":0.80},{"s":18,"t":410,"i":0.745},{"s":18,"t":420,"i":0.78},{"s":18,"t":425,"i":0.81},{"s":18,"t":430,"i":0.765},{"s":18,"t":440,"i":0.75},{"s":18,"t":450,"i":0.775},{"s":18,"t":460,"i":0.775},{"s":18,"t":467,"i":0.79},{"s":18,"t":472,"i":0.86},{"s":18,"t":476,"i":0.915},{"s":18,"t":480,"i":0.81},{"s":18,"t":486,"i":0.95},{"s":18,"t":489,"i":0.935},{"s":18,"t":492,"i":0.82},{"s":18,"t":497,"i":0.80},{"s":18,"t":500,"i":0.88},{"s":18,"t":506,"i":0.84},{"s":18,"t":512,"i":0.885},{"s":18,"t":517,"i":0.84},{"s":18,"t":521,"i":0.925},{"s":18,"t":525,"i":0.895},{"s":18,"t":528,"i":0.85},{"s":18,"t":531,"i":0.935},{"s":18,"t":536,"i":0.84},{"s":18,"t":543,"i":0.88},{"s":18,"t":549,"i":0.82},{"s":18,"t":556,"i":0.85},{"s":18,"t":563,"i":0.79},{"s":18,"t":568,"i":0.81},{"s":18,"t":573,"i":0.82},{"s":18,"t":578,"i":0.80},{"s":18,"t":584,"i":0.772},{"s":18,"t":590,"i":0.84},{"s":18,"t":595,"i":0.795},{"s":18,"t":599,"i":0.86},
{"s":18,"t":601,"i":-0.21},{"s":18,"t":605,"i":-0.06},{"s":18,"t":610,"i":0.03},{"s":18,"t":620,"i":-0.04},{"s":18,"t":630,"i":0.05},{"s":18,"t":640,"i":-0.02},{"s":18,"t":650,"i":0.06},{"s":18,"t":660,"i":-0.05},{"s":18,"t":670,"i":0.02},{"s":18,"t":680,"i":-0.03},{"s":18,"t":690,"i":0.05},{"s":18,"t":700,"i":-0.01},

{"s":1,"t":110,"i":0.021},{"s":1,"t":130,"i":0.037},{"s":1,"t":150,"i":0.026},{"s":1,"t":170,"i":0.041},{"s":1,"t":190,"i":0.024},{"s":1,"t":210,"i":0.033},{"s":1,"t":230,"i":0.020},{"s":1,"t":250,"i":0.038},{"s":1,"t":270,"i":0.028},{"s":1,"t":290,"i":0.036},{"s":1,"t":310,"i":0.022},{"s":1,"t":330,"i":0.040},{"s":1,"t":350,"i":0.025},{"s":1,"t":370,"i":0.034},{"s":1,"t":390,"i":0.019},{"s":1,"t":410,"i":0.037},{"s":1,"t":430,"i":0.027},{"s":1,"t":450,"i":0.039},{"s":1,"t":470,"i":0.023},{"s":1,"t":490,"i":0.035},{"s":1,"t":510,"i":0.021},{"s":1,"t":530,"i":0.032},{"s":1,"t":550,"i":0.038},{"s":1,"t":570,"i":0.024},{"s":1,"t":590,"i":0.034},
{"s":2,"t":110,"i":0.063},{"s":2,"t":130,"i":0.045},{"s":2,"t":150,"i":0.060},{"s":2,"t":170,"i":0.052},{"s":2,"t":190,"i":0.064},{"s":2,"t":210,"i":0.048},{"s":2,"t":230,"i":0.059},{"s":2,"t":250,"i":0.044},{"s":2,"t":270,"i":0.061},{"s":2,"t":290,"i":0.053},{"s":2,"t":310,"i":0.065},{"s":2,"t":330,"i":0.049},{"s":2,"t":350,"i":0.058},{"s":2,"t":370,"i":0.046},{"s":2,"t":390,"i":0.062},{"s":2,"t":410,"i":0.051},{"s":2,"t":430,"i":0.066},{"s":2,"t":450,"i":0.047},{"s":2,"t":470,"i":0.057},{"s":2,"t":490,"i":0.050},{"s":2,"t":510,"i":0.064},{"s":2,"t":530,"i":0.048},{"s":2,"t":550,"i":0.061},{"s":2,"t":570,"i":0.052},{"s":2,"t":590,"i":0.047},
{"s":3,"t":110,"i":0.074},{"s":3,"t":130,"i":0.084},{"s":3,"t":150,"i":0.090},{"s":3,"t":170,"i":0.072},{"s":3,"t":190,"i":0.082},{"s":3,"t":210,"i":0.069},{"s":3,"t":230,"i":0.087},{"s":3,"t":250,"i":0.077},{"s":3,"t":270,"i":0.089},{"s":3,"t":290,"i":0.070},{"s":3,"t":310,"i":0.078},{"s":3,"t":330,"i":0.066},{"s":3,"t":350,"i":0.083},{"s":3,"t":370,"i":0.073},{"s":3,"t":390,"i":0.085},{"s":3,"t":410,"i":0.068},{"s":3,"t":430,"i":0.080},{"s":3,"t":450,"i":0.060},{"s":3,"t":470,"i":0.074},{"s":3,"t":490,"i":0.078},{"s":3,"t":510,"i":0.064},{"s":3,"t":530,"i":0.081},{"s":3,"t":550,"i":0.066},{"s":3,"t":570,"i":0.061},{"s":3,"t":590,"i":0.076},
{"s":4,"t":110,"i":0.115},{"s":4,"t":130,"i":0.102},{"s":4,"t":150,"i":0.107},{"s":4,"t":170,"i":0.119},{"s":4,"t":190,"i":0.100},{"s":4,"t":210,"i":0.116},{"s":4,"t":230,"i":0.108},{"s":4,"t":250,"i":0.121},{"s":4,"t":270,"i":0.103},{"s":4,"t":290,"i":0.108},{"s":4,"t":310,"i":0.096},{"s":4,"t":330,"i":0.110},{"s":4,"t":350,"i":0.115},{"s":4,"t":370,"i":0.101},{"s":4,"t":390,"i":0.097},{"s":4,"t":410,"i":0.108},{"s":4,"t":430,"i":0.094},{"s":4,"t":450,"i":0.106},{"s":4,"t":470,"i":0.109},{"s":4,"t":490,"i":0.097},{"s":4,"t":510,"i":0.107},{"s":4,"t":530,"i":0.092},{"s":4,"t":550,"i":0.095},{"s":4,"t":570,"i":0.110},{"s":4,"t":590,"i":0.098},
{"s":5,"t":110,"i":0.138},{"s":5,"t":130,"i":0.128},{"s":5,"t":150,"i":0.142},{"s":5,"t":170,"i":0.136},{"s":5,"t":190,"i":0.125},{"s":5,"t":210,"i":0.139},{"s":5,"t":230,"i":0.127},{"s":5,"t":250,"i":0.143},{"s":5,"t":270,"i":0.131},{"s":5,"t":290,"i":0.141},{"s":5,"t":310,"i":0.123},{"s":5,"t":330,"i":0.138},{"s":5,"t":350,"i":0.129},{"s":5,"t":370,"i":0.144},{"s":5,"t":390,"i":0.126},{"s":5,"t":410,"i":0.140},{"s":5,"t":430,"i":0.132},{"s":5,"t":450,"i":0.142},{"s":5,"t":470,"i":0.124},{"s":5,"t":490,"i":0.137},{"s":5,"t":510,"i":0.128},{"s":5,"t":530,"i":0.145},{"s":5,"t":550,"i":0.130},{"s":5,"t":570,"i":0.141},{"s":5,"t":590,"i":0.125},
{"s":6,"t":110,"i":0.167},{"s":6,"t":130,"i":0.152},{"s":6,"t":150,"i":0.157},{"s":6,"t":170,"i":0.172},{"s":6,"t":190,"i":0.155},{"s":6,"t":210,"i":0.169},{"s":6,"t":230,"i":0.165},{"s":6,"t":250,"i":0.151},{"s":6,"t":270,"i":0.166},{"s":6,"t":290,"i":0.154},{"s":6,"t":310,"i":0.171},{"s":6,"t":330,"i":0.159},{"s":6,"t":350,"i":0.169},{"s":6,"t":370,"i":0.152},{"s":6,"t":390,"i":0.164},{"s":6,"t":410,"i":0.156},{"s":6,"t":430,"i":0.170},{"s":6,"t":450,"i":0.158},{"s":6,"t":470,"i":0.168},{"s":6,"t":490,"i":0.150},{"s":6,"t":510,"i":0.163},{"s":6,"t":530,"i":0.153},{"s":6,"t":550,"i":0.171},{"s":6,"t":570,"i":0.165},{"s":6,"t":590,"i":0.155},
{"s":7,"t":110,"i":0.188},{"s":7,"t":130,"i":0.200},{"s":7,"t":150,"i":0.185},{"s":7,"t":170,"i":0.182},{"s":7,"t":190,"i":0.197},{"s":7,"t":210,"i":0.187},{"s":7,"t":230,"i":0.199},{"s":7,"t":250,"i":0.196},{"s":7,"t":270,"i":0.179},{"s":7,"t":290,"i":0.196},{"s":7,"t":310,"i":0.185},{"s":7,"t":330,"i":0.189},{"s":7,"t":350,"i":0.203},{"s":7,"t":370,"i":0.198},{"s":7,"t":390,"i":0.184},{"s":7,"t":410,"i":0.196},{"s":7,"t":430,"i":0.186},{"s":7,"t":450,"i":0.207},{"s":7,"t":470,"i":0.194},{"s":7,"t":490,"i":0.202},{"s":7,"t":510,"i":0.186},{"s":7,"t":530,"i":0.205},{"s":7,"t":550,"i":0.193},{"s":7,"t":570,"i":0.188},{"s":7,"t":590,"i":0.201},
{"s":8,"t":110,"i":0.216},{"s":8,"t":130,"i":0.232},{"s":8,"t":150,"i":0.221},{"s":8,"t":170,"i":0.236},{"s":8,"t":190,"i":0.219},{"s":8,"t":210,"i":0.228},{"s":8,"t":230,"i":0.215},{"s":8,"t":250,"i":0.233},{"s":8,"t":270,"i":0.223},{"s":8,"t":290,"i":0.231},{"s":8,"t":310,"i":0.217},{"s":8,"t":330,"i":0.235},{"s":8,"t":350,"i":0.220},{"s":8,"t":370,"i":0.229},{"s":8,"t":390,"i":0.214},{"s":8,"t":410,"i":0.232},{"s":8,"t":430,"i":0.222},{"s":8,"t":450,"i":0.234},{"s":8,"t":470,"i":0.218},{"s":8,"t":490,"i":0.230},{"s":8,"t":510,"i":0.216},{"s":8,"t":530,"i":0.227},{"s":8,"t":550,"i":0.233},{"s":8,"t":570,"i":0.219},{"s":8,"t":590,"i":0.229},
{"s":9,"t":110,"i":0.274},{"s":9,"t":130,"i":0.256},{"s":9,"t":150,"i":0.271},{"s":9,"t":170,"i":0.263},{"s":9,"t":190,"i":0.275},{"s":9,"t":210,"i":0.259},{"s":9,"t":230,"i":0.270},{"s":9,"t":250,"i":0.255},{"s":9,"t":270,"i":0.272},{"s":9,"t":290,"i":0.264},{"s":9,"t":310,"i":0.276},{"s":9,"t":330,"i":0.260},{"s":9,"t":350,"i":0.269},{"s":9,"t":370,"i":0.257},{"s":9,"t":390,"i":0.273},{"s":9,"t":410,"i":0.262},{"s":9,"t":430,"i":0.277},{"s":9,"t":450,"i":0.258},{"s":9,"t":470,"i":0.268},{"s":9,"t":490,"i":0.261},{"s":9,"t":510,"i":0.275},{"s":9,"t":530,"i":0.259},{"s":9,"t":550,"i":0.272},{"s":9,"t":570,"i":0.263},{"s":9,"t":590,"i":0.258},
{"s":10,"t":110,"i":0.294},{"s":10,"t":130,"i":0.304},{"s":10,"t":150,"i":0.310},{"s":10,"t":170,"i":0.292},{"s":10,"t":190,"i":0.302},{"s":10,"t":210,"i":0.289},{"s":10,"t":230,"i":0.307},{"s":10,"t":250,"i":0.297},{"s":10,"t":270,"i":0.309},{"s":10,"t":290,"i":0.295},{"s":10,"t":310,"i":0.303},{"s":10,"t":330,"i":0.291},{"s":10,"t":350,"i":0.308},{"s":10,"t":370,"i":0.298},{"s":10,"t":390,"i":0.310},{"s":10,"t":410,"i":0.293},{"s":10,"t":430,"i":0.305},{"s":10,"t":450,"i":0.290},{"s":10,"t":470,"i":0.304},{"s":10,"t":490,"i":0.308},{"s":10,"t":510,"i":0.294},{"s":10,"t":530,"i":0.311},{"s":10,"t":550,"i":0.296},{"s":10,"t":570,"i":0.291},{"s":10,"t":590,"i":0.306},
{"s":11,"t":110,"i":0.339},{"s":11,"t":130,"i":0.326},{"s":11,"t":150,"i":0.331},{"s":11,"t":170,"i":0.343},{"s":11,"t":190,"i":0.324},{"s":11,"t":210,"i":0.340},{"s":11,"t":230,"i":0.332},{"s":11,"t":250,"i":0.345},{"s":11,"t":270,"i":0.327},{"s":11,"t":290,"i":0.337},{"s":11,"t":310,"i":0.325},{"s":11,"t":330,"i":0.339},{"s":11,"t":350,"i":0.344},{"s":11,"t":370,"i":0.330},{"s":11,"t":390,"i":0.326},{"s":11,"t":410,"i":0.337},{"s":11,"t":430,"i":0.323},{"s":11,"t":450,"i":0.340},{"s":11,"t":470,"i":0.343},{"s":11,"t":490,"i":0.331},{"s":11,"t":510,"i":0.341},{"s":11,"t":530,"i":0.326},{"s":11,"t":550,"i":0.329},{"s":11,"t":570,"i":0.344},{"s":11,"t":590,"i":0.332},
{"s":12,"t":110,"i":0.384},{"s":12,"t":130,"i":0.374},{"s":12,"t":150,"i":0.388},{"s":12,"t":170,"i":0.382},{"s":12,"t":190,"i":0.371},{"s":12,"t":210,"i":0.385},{"s":12,"t":230,"i":0.373},{"s":12,"t":250,"i":0.389},{"s":12,"t":270,"i":0.377},{"s":12,"t":290,"i":0.387},{"s":12,"t":310,"i":0.369},{"s":12,"t":330,"i":0.384},{"s":12,"t":350,"i":0.375},{"s":12,"t":370,"i":0.390},{"s":12,"t":390,"i":0.372},{"s":12,"t":410,"i":0.386},{"s":12,"t":430,"i":0.378},{"s":12,"t":450,"i":0.388},{"s":12,"t":470,"i":0.370},{"s":12,"t":490,"i":0.383},{"s":12,"t":510,"i":0.374},{"s":12,"t":530,"i":0.391},{"s":12,"t":550,"i":0.376},{"s":12,"t":570,"i":0.387},{"s":12,"t":590,"i":0.371},
{"s":13,"t":110,"i":0.427},{"s":13,"t":130,"i":0.413},{"s":13,"t":150,"i":0.420},{"s":13,"t":170,"i":0.436},{"s":13,"t":190,"i":0.421},{"s":13,"t":210,"i":0.436},{"s":13,"t":230,"i":0.434},{"s":13,"t":250,"i":0.421},{"s":13,"t":270,"i":0.438},{"s":13,"t":290,"i":0.427},{"s":13,"t":310,"i":0.445},{"s":13,"t":330,"i":0.433},{"s":13,"t":350,"i":0.443},{"s":13,"t":370,"i":0.426},{"s":13,"t":390,"i":0.438},{"s":13,"t":410,"i":0.430},{"s":13,"t":430,"i":0.444},{"s":13,"t":450,"i":0.432},{"s":13,"t":470,"i":0.442},{"s":13,"t":490,"i":0.424},{"s":13,"t":510,"i":0.437},{"s":13,"t":530,"i":0.427},{"s":13,"t":550,"i":0.445},{"s":13,"t":570,"i":0.439},{"s":13,"t":590,"i":0.429},
{"s":14,"t":110,"i":0.469},{"s":14,"t":130,"i":0.483},{"s":14,"t":150,"i":0.470},{"s":14,"t":170,"i":0.469},{"s":14,"t":190,"i":0.486},{"s":14,"t":210,"i":0.478},{"s":14,"t":230,"i":0.492},{"s":14,"t":250,"i":0.491},{"s":14,"t":270,"i":0.476},{"s":14,"t":290,"i":0.492},{"s":14,"t":310,"i":0.482},{"s":14,"t":330,"i":0.487},{"s":14,"t":350,"i":0.502},{"s":14,"t":370,"i":0.497},{"s":14,"t":390,"i":0.484},{"s":14,"t":410,"i":0.497},{"s":14,"t":430,"i":0.487},{"s":14,"t":450,"i":0.506},{"s":14,"t":470,"i":0.494},{"s":14,"t":490,"i":0.502},{"s":14,"t":510,"i":0.487},{"s":14,"t":530,"i":0.507},{"s":14,"t":550,"i":0.495},{"s":14,"t":570,"i":0.491},{"s":14,"t":590,"i":0.505},
{"s":15,"t":110,"i":0.502},{"s":15,"t":130,"i":0.520},{"s":15,"t":150,"i":0.511},{"s":15,"t":170,"i":0.528},{"s":15,"t":190,"i":0.513},{"s":15,"t":210,"i":0.524},{"s":15,"t":230,"i":0.513},{"s":15,"t":250,"i":0.533},{"s":15,"t":270,"i":0.525},{"s":15,"t":290,"i":0.535},{"s":15,"t":310,"i":0.522},{"s":15,"t":330,"i":0.541},{"s":15,"t":350,"i":0.527},{"s":15,"t":370,"i":0.536},{"s":15,"t":390,"i":0.522},{"s":15,"t":410,"i":0.541},{"s":15,"t":430,"i":0.531},{"s":15,"t":450,"i":0.544},{"s":15,"t":470,"i":0.529},{"s":15,"t":490,"i":0.541},{"s":15,"t":510,"i":0.528},{"s":15,"t":530,"i":0.540},{"s":15,"t":550,"i":0.546},{"s":15,"t":570,"i":0.533},{"s":15,"t":590,"i":0.552},
{"s":16,"t":110,"i":0.574},{"s":16,"t":130,"i":0.558},{"s":16,"t":150,"i":0.575},{"s":16,"t":170,"i":0.569},{"s":16,"t":190,"i":0.583},{"s":16,"t":210,"i":0.569},{"s":16,"t":230,"i":0.582},{"s":16,"t":250,"i":0.569},{"s":16,"t":270,"i":0.588},{"s":16,"t":290,"i":0.582},{"s":16,"t":310,"i":0.595},{"s":16,"t":330,"i":0.580},{"s":16,"t":350,"i":0.589},{"s":16,"t":370,"i":0.578},{"s":16,"t":390,"i":0.594},{"s":16,"t":410,"i":0.583},{"s":16,"t":430,"i":0.599},{"s":16,"t":450,"i":0.580},{"s":16,"t":470,"i":0.590},{"s":16,"t":490,"i":0.584},{"s":16,"t":510,"i":0.598},{"s":16,"t":530,"i":0.582},{"s":16,"t":550,"i":0.596},{"s":16,"t":570,"i":0.587},{"s":16,"t":590,"i":0.582},
{"s":17,"t":110,"i":0.605},{"s":17,"t":130,"i":0.618},{"s":17,"t":150,"i":0.627},{"s":17,"t":170,"i":0.612},{"s":17,"t":190,"i":0.625},{"s":17,"t":210,"i":0.615},{"s":17,"t":230,"i":0.636},{"s":17,"t":250,"i":0.629},{"s":17,"t":270,"i":0.644},{"s":17,"t":290,"i":0.633},{"s":17,"t":310,"i":0.643},{"s":17,"t":330,"i":0.631},{"s":17,"t":350,"i":0.649},{"s":17,"t":370,"i":0.639},{"s":17,"t":390,"i":0.652},{"s":17,"t":410,"i":0.635},{"s":17,"t":430,"i":0.648},{"s":17,"t":450,"i":0.640},{"s":17,"t":470,"i":0.659},{"s":17,"t":490,"i":0.658},{"s":17,"t":510,"i":0.638},{"s":17,"t":530,"i":0.655},{"s":17,"t":550,"i":0.641},{"s":17,"t":570,"i":0.636},{"s":17,"t":590,"i":0.651},

{"s":1,"t":5,"i":-0.03},{"s":1,"t":15,"i":0.05},{"s":1,"t":25,"i":-0.06},{"s":1,"t":35,"i":0.02},{"s":1,"t":45,"i":0.04},{"s":1,"t":55,"i":-0.05},{"s":1,"t":65,"i":0.06},{"s":1,"t":75,"i":-0.01},{"s":1,"t":85,"i":-0.04},{"s":1,"t":95,"i":0.05},{"s":1,"t":615,"i":0.01},{"s":1,"t":625,"i":-0.05},{"s":1,"t":635,"i":0.04},{"s":1,"t":645,"i":-0.02},{"s":1,"t":655,"i":0.06},{"s":1,"t":665,"i":-0.04},{"s":1,"t":675,"i":0.03},{"s":1,"t":685,"i":-0.06},{"s":1,"t":695,"i":0.02},
{"s":2,"t":5,"i":0.04},{"s":2,"t":15,"i":-0.05},{"s":2,"t":25,"i":0.03},{"s":2,"t":35,"i":-0.02},{"s":2,"t":45,"i":0.06},{"s":2,"t":55,"i":-0.04},{"s":2,"t":65,"i":0.01},{"s":2,"t":75,"i":0.05},{"s":2,"t":85,"i":-0.06},{"s":2,"t":95,"i":0.03},{"s":2,"t":615,"i":-0.03},{"s":2,"t":625,"i":0.06},{"s":2,"t":635,"i":-0.05},{"s":2,"t":645,"i":0.02},{"s":2,"t":655,"i":-0.01},{"s":2,"t":665,"i":0.05},{"s":2,"t":675,"i":-0.06},{"s":2,"t":685,"i":0.04},{"s":2,"t":695,"i":-0.02},
{"s":3,"t":5,"i":-0.05},{"s":3,"t":15,"i":0.02},{"s":3,"t":25,"i":0.06},{"s":3,"t":35,"i":-0.04},{"s":3,"t":45,"i":-0.01},{"s":3,"t":55,"i":0.05},{"s":3,"t":65,"i":-0.06},{"s":3,"t":75,"i":0.03},{"s":3,"t":85,"i":0.04},{"s":3,"t":95,"i":-0.03},{"s":3,"t":615,"i":0.05},{"s":3,"t":625,"i":-0.02},{"s":3,"t":635,"i":0.03},{"s":3,"t":645,"i":-0.06},{"s":3,"t":655,"i":0.04},{"s":3,"t":665,"i":0.01},{"s":3,"t":675,"i":-0.05},{"s":3,"t":685,"i":0.06},{"s":3,"t":695,"i":-0.03},
{"s":4,"t":5,"i":0.06},{"s":4,"t":15,"i":-0.02},{"s":4,"t":25,"i":-0.04},{"s":4,"t":35,"i":0.05},{"s":4,"t":45,"i":-0.06},{"s":4,"t":55,"i":0.03},{"s":4,"t":65,"i":0.02},{"s":4,"t":75,"i":-0.05},{"s":4,"t":85,"i":0.06},{"s":4,"t":95,"i":-0.01},{"s":4,"t":615,"i":-0.06},{"s":4,"t":625,"i":0.03},{"s":4,"t":635,"i":0.05},{"s":4,"t":645,"i":-0.02},{"s":4,"t":655,"i":-0.04},{"s":4,"t":665,"i":0.06},{"s":4,"t":675,"i":0.01},{"s":4,"t":685,"i":-0.03},{"s":4,"t":695,"i":0.05},
{"s":5,"t":5,"i":-0.02},{"s":5,"t":15,"i":0.04},{"s":5,"t":25,"i":-0.05},{"s":5,"t":35,"i":0.06},{"s":5,"t":45,"i":-0.03},{"s":5,"t":55,"i":0.01},{"s":5,"t":65,"i":0.05},{"s":5,"t":75,"i":-0.06},{"s":5,"t":85,"i":0.03},{"s":5,"t":95,"i":0.04},{"s":5,"t":615,"i":0.03},{"s":5,"t":625,"i":-0.06},{"s":5,"t":635,"i":0.01},{"s":5,"t":645,"i":0.05},{"s":5,"t":655,"i":-0.03},{"s":5,"t":665,"i":-0.02},{"s":5,"t":675,"i":0.06},{"s":5,"t":685,"i":-0.04},{"s":5,"t":695,"i":0.02},
{"s":6,"t":5,"i":0.03},{"s":6,"t":15,"i":-0.06},{"s":6,"t":25,"i":0.05},{"s":6,"t":35,"i":-0.01},{"s":6,"t":45,"i":0.06},{"s":6,"t":55,"i":-0.03},{"s":6,"t":65,"i":-0.04},{"s":6,"t":75,"i":0.05},{"s":6,"t":85,"i":-0.02},{"s":6,"t":95,"i":0.02},{"s":6,"t":615,"i":-0.04},{"s":6,"t":625,"i":0.05},{"s":6,"t":635,"i":-0.03},{"s":6,"t":645,"i":0.02},{"s":6,"t":655,"i":0.06},{"s":6,"t":665,"i":-0.05},{"s":6,"t":675,"i":-0.01},{"s":6,"t":685,"i":0.03},{"s":6,"t":695,"i":-0.06},
{"s":7,"t":5,"i":-0.06},{"s":7,"t":15,"i":0.03},{"s":7,"t":25,"i":0.01},{"s":7,"t":35,"i":-0.05},{"s":7,"t":45,"i":0.04},{"s":7,"t":55,"i":0.06},{"s":7,"t":65,"i":-0.02},{"s":7,"t":75,"i":-0.04},{"s":7,"t":85,"i":0.05},{"s":7,"t":95,"i":-0.06},{"s":7,"t":615,"i":0.06},{"s":7,"t":625,"i":0.01},{"s":7,"t":635,"i":-0.04},{"s":7,"t":645,"i":0.04},{"s":7,"t":655,"i":-0.06},{"s":7,"t":665,"i":0.03},{"s":7,"t":675,"i":0.05},{"s":7,"t":685,"i":-0.02},{"s":7,"t":695,"i":0.01},
{"s":8,"t":5,"i":0.05},{"s":8,"t":15,"i":0.01},{"s":8,"t":25,"i":-0.06},{"s":8,"t":35,"i":0.03},{"s":8,"t":45,"i":-0.05},{"s":8,"t":55,"i":0.04},{"s":8,"t":65,"i":0.06},{"s":8,"t":75,"i":-0.03},{"s":8,"t":85,"i":-0.01},{"s":8,"t":95,"i":0.06},{"s":8,"t":615,"i":-0.02},{"s":8,"t":625,"i":-0.05},{"s":8,"t":635,"i":0.06},{"s":8,"t":645,"i":-0.03},{"s":8,"t":655,"i":0.02},{"s":8,"t":665,"i":0.04},{"s":8,"t":675,"i":-0.06},{"s":8,"t":685,"i":0.05},{"s":8,"t":695,"i":-0.04},
{"s":9,"t":5,"i":-0.01},{"s":9,"t":15,"i":-0.04},{"s":9,"t":25,"i":0.04},{"s":9,"t":35,"i":-0.06},{"s":9,"t":45,"i":0.02},{"s":9,"t":55,"i":-0.02},{"s":9,"t":65,"i":0.05},{"s":9,"t":75,"i":0.06},{"s":9,"t":85,"i":-0.05},{"s":9,"t":95,"i":0.01},{"s":9,"t":615,"i":0.04},{"s":9,"t":625,"i":0.02},{"s":9,"t":635,"i":-0.06},{"s":9,"t":645,"i":0.06},{"s":9,"t":655,"i":-0.01},{"s":9,"t":665,"i":-0.05},{"s":9,"t":675,"i":0.03},{"s":9,"t":685,"i":-0.03},{"s":9,"t":695,"i":0.06},
{"s":10,"t":5,"i":0.02},{"s":10,"t":15,"i":0.06},{"s":10,"t":25,"i":-0.03},{"s":10,"t":35,"i":0.04},{"s":10,"t":45,"i":-0.06},{"s":10,"t":55,"i":0.05},{"s":10,"t":65,"i":-0.05},{"s":10,"t":75,"i":0.01},{"s":10,"t":85,"i":0.03},{"s":10,"t":95,"i":-0.04},{"s":10,"t":615,"i":-0.05},{"s":10,"t":625,"i":0.04},{"s":10,"t":635,"i":0.02},{"s":10,"t":645,"i":-0.06},{"s":10,"t":655,"i":0.05},{"s":10,"t":665,"i":0.03},{"s":10,"t":675,"i":-0.04},{"s":10,"t":685,"i":0.01},{"s":10,"t":695,"i":-0.02},
{"s":11,"t":5,"i":-0.04},{"s":11,"t":15,"i":0.05},{"s":11,"t":25,"i":0.02},{"s":11,"t":35,"i":-0.03},{"s":11,"t":45,"i":0.06},{"s":11,"t":55,"i":-0.06},{"s":11,"t":65,"i":0.03},{"s":11,"t":75,"i":-0.02},{"s":11,"t":85,"i":0.05},{"s":11,"t":95,"i":-0.05},{"s":11,"t":615,"i":0.02},{"s":11,"t":625,"i":-0.03},{"s":11,"t":635,"i":-0.05},{"s":11,"t":645,"i":0.06},{"s":11,"t":655,"i":0.03},{"s":11,"t":665,"i":-0.06},{"s":11,"t":675,"i":0.05},{"s":11,"t":685,"i":-0.01},{"s":11,"t":695,"i":0.04},
{"s":12,"t":5,"i":0.06},{"s":12,"t":15,"i":-0.03},{"s":12,"t":25,"i":0.04},{"s":12,"t":35,"i":0.01},{"s":12,"t":45,"i":-0.05},{"s":12,"t":55,"i":0.02},{"s":12,"t":65,"i":-0.06},{"s":12,"t":75,"i":0.06},{"s":12,"t":85,"i":-0.03},{"s":12,"t":95,"i":0.03},{"s":12,"t":615,"i":-0.06},{"s":12,"t":625,"i":0.05},{"s":12,"t":635,"i":0.04},{"s":12,"t":645,"i":-0.04},{"s":12,"t":655,"i":-0.02},{"s":12,"t":665,"i":0.06},{"s":12,"t":675,"i":-0.03},{"s":12,"t":685,"i":0.03},{"s":12,"t":695,"i":-0.05},
{"s":13,"t":5,"i":-0.03},{"s":13,"t":15,"i":0.06},{"s":13,"t":25,"i":-0.06},{"s":13,"t":35,"i":0.05},{"s":13,"t":45,"i":0.02},{"s":13,"t":55,"i":-0.04},{"s":13,"t":65,"i":0.04},{"s":13,"t":75,"i":-0.05},{"s":13,"t":85,"i":0.01},{"s":13,"t":95,"i":0.06},{"s":13,"t":615,"i":0.05},{"s":13,"t":625,"i":-0.04},{"s":13,"t":635,"i":-0.02},{"s":13,"t":645,"i":0.03},{"s":13,"t":655,"i":-0.06},{"s":13,"t":665,"i":0.02},{"s":13,"t":675,"i":0.06},{"s":13,"t":685,"i":-0.05},{"s":13,"t":695,"i":0.01},
{"s":14,"t":5,"i":0.04},{"s":14,"t":15,"i":-0.01},{"s":14,"t":25,"i":0.05},{"s":14,"t":35,"i":-0.06},{"s":14,"t":45,"i":-0.03},{"s":14,"t":55,"i":0.06},{"s":14,"t":65,"i":-0.02},{"s":14,"t":75,"i":0.03},{"s":14,"t":85,"i":-0.06},{"s":14,"t":95,"i":0.02},{"s":14,"t":615,"i":-0.01},{"s":14,"t":625,"i":0.06},{"s":14,"t":635,"i":-0.06},{"s":14,"t":645,"i":0.01},{"s":14,"t":655,"i":0.05},{"s":14,"t":665,"i":-0.03},{"s":14,"t":675,"i":-0.04},{"s":14,"t":685,"i":0.06},{"s":14,"t":695,"i":-0.02},
{"s":15,"t":5,"i":-0.06},{"s":15,"t":15,"i":0.04},{"s":15,"t":25,"i":-0.02},{"s":15,"t":35,"i":0.03},{"s":15,"t":45,"i":0.05},{"s":15,"t":55,"i":-0.05},{"s":15,"t":65,"i":0.01},{"s":15,"t":75,"i":0.06},{"s":15,"t":85,"i":-0.04},{"s":15,"t":95,"i":-0.02},{"s":15,"t":615,"i":0.06},{"s":15,"t":625,"i":-0.02},{"s":15,"t":635,"i":0.03},{"s":15,"t":645,"i":-0.05},{"s":15,"t":655,"i":-0.03},{"s":15,"t":665,"i":0.05},{"s":15,"t":675,"i":0.02},{"s":15,"t":685,"i":-0.06},{"s":15,"t":695,"i":0.04},
{"s":16,"t":5,"i":0.01},{"s":16,"t":15,"i":-0.05},{"s":16,"t":25,"i":0.06},{"s":16,"t":35,"i":-0.04},{"s":16,"t":45,"i":0.03},{"s":16,"t":55,"i":-0.01},{"s":16,"t":65,"i":-0.06},{"s":16,"t":75,"i":0.04},{"s":16,"t":85,"i":0.05},{"s":16,"t":95,"i":-0.06},{"s":16,"t":615,"i":-0.04},{"s":16,"t":625,"i":0.03},{"s":16,"t":635,"i":-0.01},{"s":16,"t":645,"i":0.05},{"s":16,"t":655,"i":-0.05},{"s":16,"t":665,"i":-0.02},{"s":16,"t":675,"i":0.06},{"s":16,"t":685,"i":0.02},{"s":16,"t":695,"i":-0.06},
{"s":17,"t":5,"i":-0.02},{"s":17,"t":15,"i":0.03},{"s":17,"t":25,"i":-0.05},{"s":17,"t":35,"i":0.06},{"s":17,"t":45,"i":-0.06},{"s":17,"t":55,"i":0.04},{"s":17,"t":65,"i":0.02},{"s":17,"t":75,"i":-0.03},{"s":17,"t":85,"i":0.06},{"s":17,"t":95,"i":-0.04},{"s":17,"t":615,"i":0.03},{"s":17,"t":625,"i":-0.06},{"s":17,"t":635,"i":0.05},{"s":17,"t":645,"i":-0.04},{"s":17,"t":655,"i":0.02},{"s":17,"t":665,"i":0.06},{"s":17,"t":675,"i":-0.03},{"s":17,"t":685,"i":-0.05},{"s":17,"t":695,"i":0.05},
{"s":18,"t":5,"i":0.05},{"s":18,"t":15,"i":-0.06},{"s":18,"t":25,"i":0.02},{"s":18,"t":35,"i":-0.03},{"s":18,"t":45,"i":0.06},{"s":18,"t":55,"i":-0.02},{"s":18,"t":65,"i":0.04},{"s":18,"t":75,"i":-0.06},{"s":18,"t":85,"i":0.03},{"s":18,"t":95,"i":0.05},{"s":18,"t":615,"i":-0.05},{"s":18,"t":625,"i":0.04},{"s":18,"t":635,"i":-0.03},{"s":18,"t":645,"i":0.06},{"s":18,"t":655,"i":-0.04},{"s":18,"t":665,"i":0.01},{"s":18,"t":675,"i":0.05},{"s":18,"t":685,"i":-0.02},{"s":18,"t":695,"i":0.03}
]},
"mark":{"type":"line","color":"#ff0000","strokeWidth":2.2},
"encoding":{
"x":{"field":"t","type":"quantitative","scale":{"domain":[-25,725],"nice":false,"zero":false},
"axis":{"orient":"bottom","values":[100,350,600],"labelExpr":"format(datum.value/1000,'~g')","title":"t [s]","grid":false,"tickSize":-7,"labelPadding":27,"labelFontSize":32,"labelColor":"#262626","labelFlush":false,"labelOverlap":false,"titleFontSize":34,"titleFontWeight":"normal","titleColor":"#262626","titleY":89,"titleBaseline":"alphabetic","domainColor":"#262626","tickColor":"#262626","domainWidth":1,"tickWidth":1}},
"y":{"field":"i","type":"quantitative","scale":{"domain":[-0.25,1.125],"nice":false,"zero":false},
"axis":{"orient":"left","values":[0,0.5,1],"format":"~g","title":"I [nA]","grid":false,"tickSize":-7,"labelPadding":24,"labelFontSize":32,"labelColor":"#262626","labelFlush":false,"labelOverlap":false,"titleFontSize":34,"titleFontWeight":"normal","titleColor":"#262626","titleAngle":270,"titleX":-84,"titleY":241,"titleAlign":"center","titleBaseline":"alphabetic","domainColor":"#262626","tickColor":"#262626","domainWidth":1,"tickWidth":1}},
"detail":{"field":"s","type":"nominal"}
}},
{"data":{"values":[{"t":0,"i":0}]},
"mark":{"type":"point","opacity":0},
"encoding":{
"x":{"field":"t","type":"quantitative","scale":{"domain":[-25,725],"nice":false,"zero":false},
"axis":{"orient":"top","title":"Activation","labels":false,"ticks":false,"domain":false,"grid":false,"titleFontSize":22,"titleFontWeight":"normal","titleColor":"#000000","titleX":717,"titleY":0,"titleAlign":"right","titleBaseline":"alphabetic","titleAngle":0}},
"y":{"field":"i","type":"quantitative","scale":{"domain":[-0.25,1.125],"nice":false,"zero":false},
"axis":{"orient":"right","title":"BBP Channelpedia ID 12071 rep 3","labels":false,"ticks":false,"domain":false,"grid":false,"titleFontSize":22,"titleFontWeight":"normal","titleColor":"#000000","titleAngle":270,"titleX":0,"titleY":240,"titleAlign":"center","titleBaseline":"alphabetic"}}
}}
]
}
